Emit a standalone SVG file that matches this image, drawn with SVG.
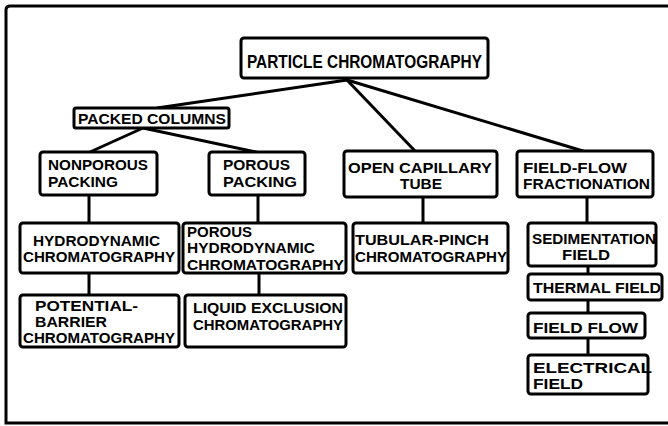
<svg xmlns="http://www.w3.org/2000/svg" width="668" height="426" viewBox="0 0 668 426">
<style>
.box{fill:#fff;stroke:#000;stroke-width:3;}
.t{font-family:"Liberation Sans",Arial,sans-serif;font-weight:bold;font-size:15px;fill:#000;}
.big{font-size:18px;}
.sm{font-size:14px;}
.c{stroke:#000;stroke-width:3;fill:none;stroke-linecap:round;}
</style>
<rect width="668" height="426" fill="#fff"/>
<path d="M 670 6 H 10 Q 6 6 6 10 V 423 H 670" fill="none" stroke="#000" stroke-width="3"/>
<g id="connectors">
<line class="c" x1="347" y1="80" x2="157" y2="108"/>
<line class="c" x1="347" y1="80" x2="415" y2="151"/>
<line class="c" x1="347" y1="80" x2="583" y2="151"/>
<line class="c" x1="143" y1="128" x2="90" y2="152"/>
<line class="c" x1="143" y1="128" x2="256" y2="152"/>
<line class="c" x1="89" y1="195" x2="89" y2="223"/>
<line class="c" x1="89" y1="273" x2="89" y2="295"/>
<line class="c" x1="258" y1="195" x2="258" y2="223"/>
<line class="c" x1="259" y1="273" x2="259" y2="295"/>
<line class="c" x1="423" y1="197" x2="423" y2="223"/>
<line class="c" x1="587" y1="197" x2="587" y2="223"/>
<line class="c" x1="588" y1="266" x2="588" y2="274"/>
<line class="c" x1="588" y1="300" x2="588" y2="313"/>
<line class="c" x1="588" y1="338" x2="588" y2="355"/>
</g>
<g id="root"><rect class="box" x="241" y="38" width="247" height="40" rx="3"/>
<text class="t big" x="247" y="68" textLength="235" lengthAdjust="spacingAndGlyphs">PARTICLE CHROMATOGRAPHY</text></g>
<g id="packed"><rect class="box" x="74" y="108" width="155" height="20" rx="2"/>
<text class="t" x="78" y="124" textLength="148" lengthAdjust="spacingAndGlyphs">PACKED COLUMNS</text></g>
<g id="nonporous"><rect class="box" x="40" y="152" width="117" height="43" rx="3"/>
<text class="t" x="48" y="170" textLength="100" lengthAdjust="spacingAndGlyphs">NONPOROUS</text>
<text class="t" x="48" y="187" textLength="70" lengthAdjust="spacingAndGlyphs">PACKING</text></g>
<g id="porous"><rect class="box" x="209" y="152" width="96" height="43" rx="3"/>
<text class="t" x="223" y="170" textLength="67" lengthAdjust="spacingAndGlyphs">POROUS</text>
<text class="t" x="223" y="187" textLength="74" lengthAdjust="spacingAndGlyphs">PACKING</text></g>
<g id="opencap"><rect class="box" x="344" y="151" width="153" height="46" rx="3"/>
<text class="t" x="348" y="173" textLength="144" lengthAdjust="spacingAndGlyphs">OPEN CAPILLARY</text>
<text class="t" x="400" y="189" textLength="42" lengthAdjust="spacingAndGlyphs">TUBE</text></g>
<g id="fff"><rect class="box" x="517" y="151" width="136" height="46" rx="3"/>
<text class="t" x="523" y="173" textLength="104" lengthAdjust="spacingAndGlyphs">FIELD-FLOW</text>
<text class="t" x="523" y="189" textLength="127" lengthAdjust="spacingAndGlyphs">FRACTIONATION</text></g>
<g id="hydro"><rect class="box" x="20" y="223" width="159" height="50" rx="3"/>
<text class="t" x="33" y="246" textLength="127" lengthAdjust="spacingAndGlyphs">HYDRODYNAMIC</text>
<text class="t" x="23" y="262" textLength="152" lengthAdjust="spacingAndGlyphs">CHROMATOGRAPHY</text></g>
<g id="poroushydro"><rect class="box" x="183" y="223" width="163" height="50" rx="3"/>
<text class="t" x="187" y="237" textLength="65" lengthAdjust="spacingAndGlyphs">POROUS</text>
<text class="t" x="187" y="253" textLength="128" lengthAdjust="spacingAndGlyphs">HYDRODYNAMIC</text>
<text class="t" x="187" y="270" textLength="157" lengthAdjust="spacingAndGlyphs">CHROMATOGRAPHY</text></g>
<g id="tubular"><rect class="box" x="353" y="223" width="155" height="50" rx="3"/>
<text class="t" x="355" y="245" textLength="134" lengthAdjust="spacingAndGlyphs">TUBULAR-PINCH</text>
<text class="t" x="355" y="262" textLength="152" lengthAdjust="spacingAndGlyphs">CHROMATOGRAPHY</text></g>
<g id="sedimentation"><rect class="box" x="528" y="223" width="128" height="43" rx="3"/>
<text class="t" x="532" y="244" textLength="124" lengthAdjust="spacingAndGlyphs">SEDIMENTATION</text>
<text class="t" x="562" y="260" textLength="48" lengthAdjust="spacingAndGlyphs">FIELD</text></g>
<g id="thermal"><rect class="box" x="528" y="274" width="134" height="26" rx="3"/>
<text class="t" x="533" y="293" textLength="128" lengthAdjust="spacingAndGlyphs">THERMAL FIELD</text></g>
<g id="fieldflow"><rect class="box" x="528" y="313" width="117" height="25" rx="3"/>
<text class="t" x="533" y="333" textLength="105" lengthAdjust="spacingAndGlyphs">FIELD FLOW</text></g>
<g id="electrical"><rect class="box" x="528" y="355" width="120" height="39" rx="3"/>
<text class="t" x="533" y="373" textLength="119" lengthAdjust="spacingAndGlyphs">ELECTRICAL</text>
<text class="t" x="533" y="389" textLength="50" lengthAdjust="spacingAndGlyphs">FIELD</text></g>
<g id="potential"><rect class="box" x="20" y="295" width="159" height="52" rx="3"/>
<text class="t sm" x="35" y="311" textLength="103" lengthAdjust="spacingAndGlyphs">POTENTIAL-</text>
<text class="t sm" x="35" y="327" textLength="72" lengthAdjust="spacingAndGlyphs">BARRIER</text>
<text class="t" x="23" y="343" textLength="152" lengthAdjust="spacingAndGlyphs">CHROMATOGRAPHY</text></g>
<g id="liquid"><rect class="box" x="185" y="295" width="161" height="52" rx="3"/>
<text class="t" x="193" y="313" textLength="150" lengthAdjust="spacingAndGlyphs">LIQUID EXCLUSION</text>
<text class="t" x="193" y="330" textLength="150" lengthAdjust="spacingAndGlyphs">CHROMATOGRAPHY</text></g>
</svg>
